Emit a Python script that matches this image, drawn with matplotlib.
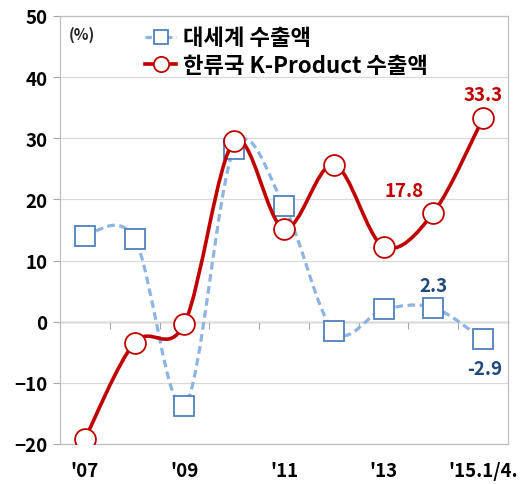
import numpy as np
import matplotlib
matplotlib.use('Agg')
import matplotlib.pyplot as plt
from matplotlib.path import Path
from matplotlib.patches import PathPatch
from matplotlib.lines import Line2D

plt.rcParams['font.family'] = ['Noto Sans CJK KR', 'DejaVu Sans']
plt.rcParams['font.weight'] = 'bold'

# 데이터
years = ["'07", "'08", "'09", "'10", "'11", "'12", "'13", "'14", "'15.1/4."]
tick_labels = ["'07", "", "'09", "", "'11", "", "'13", "", "'15.1/4."]
world = [14.1, 13.6, -13.8, 28.3, 19.0, -1.5, 2.0, 2.3, -2.9]
korea = [-19.2, -3.4, -0.3, 29.5, 15.2, 25.7, 12.3, 17.8, 33.3]

label_world = '대세계 수출액'
label_korea = '한류국 K-Product 수출액'

red = '#C00000'
blue_line = '#8DB4E2'
blue_edge = '#4F81BD'
blue_text = '#1F497D'
grid_c = '#D9D9D9'


def smooth_path(xs, ys):
    """엑셀 스타일 곡선 (Catmull-Rom -> Bezier)"""
    pts = np.column_stack([xs, ys]).astype(float)
    n = len(pts)
    verts = [pts[0]]
    codes = [Path.MOVETO]
    for i in range(n - 1):
        p0 = pts[i - 1] if i > 0 else pts[i]
        p1 = pts[i]
        p2 = pts[i + 1]
        p3 = pts[i + 2] if i + 2 < n else pts[i + 1]
        c1 = p1 + (p2 - p0) / 6.0
        c2 = p2 - (p3 - p1) / 6.0
        verts += [c1, c2, p2]
        codes += [Path.CURVE4] * 3
    return Path(verts, codes)


fig = plt.figure(figsize=(5.2, 4.85), dpi=100)
ax = fig.add_axes([60 / 520, 1 - 445 / 485, 448 / 520, 428 / 485])

x = np.arange(len(years))

# 대세계 (점선)
ax.add_patch(PathPatch(smooth_path(x, world), fill=False, edgecolor=blue_line,
                       lw=2.3, linestyle=(0, (2.4, 1.4)), zorder=3))
ax.plot(x, world, ls='none', marker='s', ms=14, mfc='white', mec=blue_edge,
        mew=1.3, zorder=4)

# 한류국
ax.add_patch(PathPatch(smooth_path(x, korea), fill=False, edgecolor=red,
                       lw=2.6, zorder=5))
ax.plot(x, korea, ls='none', marker='o', ms=15, mfc='white', mec=red,
        mew=1.3, zorder=6)

ax.set_xlim(-0.5, len(years) - 0.5)
ax.set_ylim(-20, 50)
ax.set_yticks(np.arange(-20, 51, 10))
ax.set_xticks(x)
ax.set_xticklabels(tick_labels)
ax.tick_params(axis='x', length=0, pad=12, labelsize=13.5)
ax.tick_params(axis='y', length=5, color='#A6A6A6', labelsize=13.5, pad=4)
ax.grid(axis='y', color=grid_c, lw=0.9)
ax.set_axisbelow(True)
for s in ax.spines.values():
    s.set_color('#BFBFBF')
    s.set_linewidth(0.9)

# 0 기준선 (카테고리 축)
sec = ax.secondary_xaxis(20 / 70)
sec.set_xticks(np.arange(-0.5, len(years), 1.0))
sec.set_xticklabels([])
sec.tick_params(length=5, color='#A6A6A6', direction='out')
sec.spines['bottom'].set_color('#A6A6A6')
sec.spines['bottom'].set_linewidth(1.0)

# 데이터 레이블
ax.annotate(f'{korea[8]}', (x[8], korea[8]), xytext=(0, 10), textcoords='offset points',
            ha='center', va='bottom', color=red, fontsize=13.5, fontweight='bold')
ax.annotate(f'{korea[7]}', (x[7], korea[7]), xytext=(-21, 9), textcoords='offset points',
            ha='center', va='bottom', color=red, fontsize=13.5, fontweight='bold')
ax.annotate(f'{world[7]}', (x[7], world[7]), xytext=(0, 9), textcoords='offset points',
            ha='center', va='bottom', color=blue_text, fontsize=13.5, fontweight='bold')
ax.annotate(f'{world[8]}', (x[8], world[8]), xytext=(1, -14), textcoords='offset points',
            ha='center', va='top', color=blue_text, fontsize=13.5, fontweight='bold')

ax.text(0.019, 0.978, '(%)', transform=ax.transAxes, ha='left', va='top',
        fontsize=11, fontweight='bold', color='#262626')

handles = [
    Line2D([], [], color=blue_line, lw=2.3, ls=(0, (2.0, 1.2)), marker='s', ms=10,
           mfc='white', mec=blue_edge, mew=1.3),
    Line2D([], [], color=red, lw=2.6, marker='o', ms=11, mfc='white', mec=red, mew=1.3),
]
ax.legend(handles, [label_world, label_korea], loc='upper left',
          bbox_to_anchor=(0.155, 1.012), frameon=False, handlelength=1.4,
          handletextpad=0.3, labelspacing=0.2, borderpad=0.2,
          prop={'size': 16, 'weight': 'bold'})

fig.savefig('out.png', dpi=100)
